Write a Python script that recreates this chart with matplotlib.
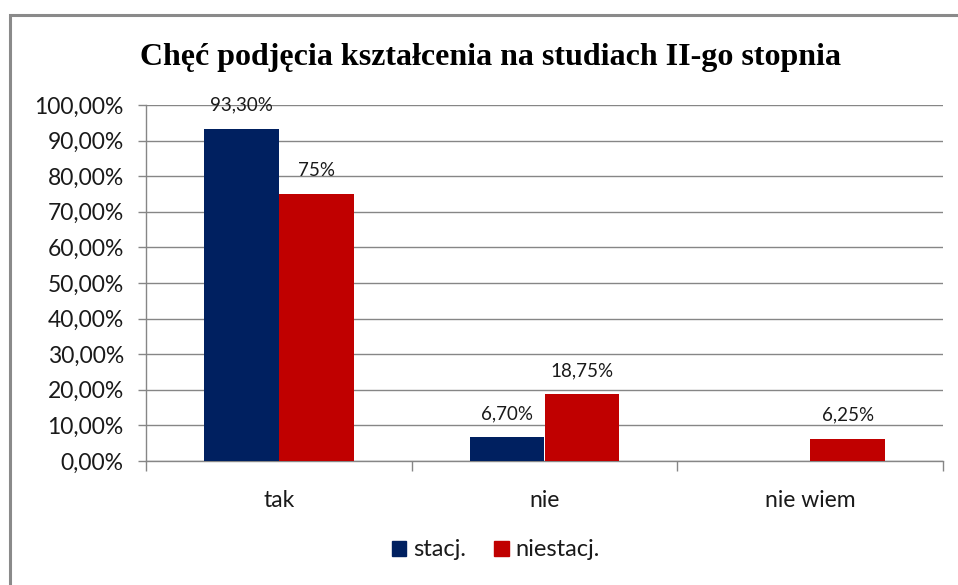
import matplotlib
matplotlib.use("Agg")
import matplotlib.pyplot as plt
import numpy as np
from matplotlib.patches import Rectangle
from matplotlib.ticker import FixedLocator, FuncFormatter

categories = ["tak", "nie", "nie wiem"]
series_names = ["stacj.", "niestacj."]
stacj = [0.933, 0.067, None]
niestacj = [0.75, 0.1875, 0.0625]
stacj_labels = ["93,30%", "6,70%", None]
niestacj_labels = ["75%", "18,75%", "6,25%"]
title = "Chęć podjęcia kształcenia na studiach II-go stopnia"

W, H = 958, 585
fig = plt.figure(figsize=(W / 100, H / 100), dpi=100)
fig.patch.set_facecolor("white")

# outer border
fig.add_artist(Rectangle((10 / W, -0.1), 2, 1 - 15 / H + 0.1, transform=fig.transFigure,
                         fill=False, edgecolor="#8a8a8a", linewidth=2.2))

left, right, bottom, top = 146 / W, 943 / W, 1 - 461 / H, 1 - 105 / H
ax = fig.add_axes([left, bottom, right - left, top - bottom])

navy = "#002060"
red = "#C00000"
w = 0.282
x = np.arange(len(categories))
txt = "#1a1a1a"

tick_font = "Lato"
for i in range(len(categories)):
    if stacj[i] is not None:
        ax.bar(x[i] - w / 2, stacj[i], width=w, color=navy, zorder=3)
        ax.annotate(stacj_labels[i], (x[i] - w / 2, stacj[i]), xytext=(0, 17),
                    textcoords="offset points", ha="center", va="center",
                    fontsize=13.5, family=tick_font, color=txt)
    if niestacj[i] is not None:
        ax.bar(x[i] + w / 2, niestacj[i], width=w, color=red, zorder=3)
        ax.annotate(niestacj_labels[i], (x[i] + w / 2, niestacj[i]), xytext=(0, 17),
                    textcoords="offset points", ha="center", va="center",
                    fontsize=13.5, family=tick_font, color=txt)

ax.set_xlim(-0.5, len(categories) - 0.5)
ax.set_ylim(0, 1.0)
ax.yaxis.set_major_locator(FixedLocator(np.arange(0, 1.01, 0.1)))
ax.yaxis.set_major_formatter(FuncFormatter(lambda v, p: f"{v * 100:.2f}%".replace(".", ",")))
ax.grid(axis="y", color="#868686", linewidth=1, zorder=0)
ax.set_axisbelow(True)

ax.set_xticks(x)
ax.set_xticklabels(categories)
ax.xaxis.set_minor_locator(FixedLocator(np.arange(-0.5, len(categories), 1.0)))
ax.tick_params(axis="x", which="major", length=0, pad=21, labelsize=16.5, labelcolor=txt)
ax.tick_params(axis="x", which="minor", length=7, color="#868686", width=1)
ax.tick_params(axis="y", which="major", length=6, color="#868686", width=1, pad=10,
               labelsize=16.5, labelcolor=txt)
for lab in ax.get_xticklabels() + ax.get_yticklabels():
    lab.set_family(tick_font)

for s in ["top", "right"]:
    ax.spines[s].set_visible(False)
for s in ["left", "bottom"]:
    ax.spines[s].set_color("#868686")
    ax.spines[s].set_linewidth(1)

fig.text(490 / W, 1 - 57 / H, title, ha="center", va="center",
         family="Liberation Serif", fontweight="bold", fontsize=23, color="black")

handles = [Rectangle((0, 0), 1, 1, color=navy), Rectangle((0, 0), 1, 1, color=red)]
leg = fig.legend(handles, series_names, loc="center", bbox_to_anchor=(496 / W, 1 - 550 / H),
                 ncol=2, frameon=False, handlelength=0.6, handleheight=0.6,
                 handletextpad=0.3, columnspacing=1.2,
                 prop={"family": tick_font, "size": 17})
for t in leg.get_texts():
    t.set_color(txt)

fig.savefig("out.png", dpi=100, facecolor="white")
